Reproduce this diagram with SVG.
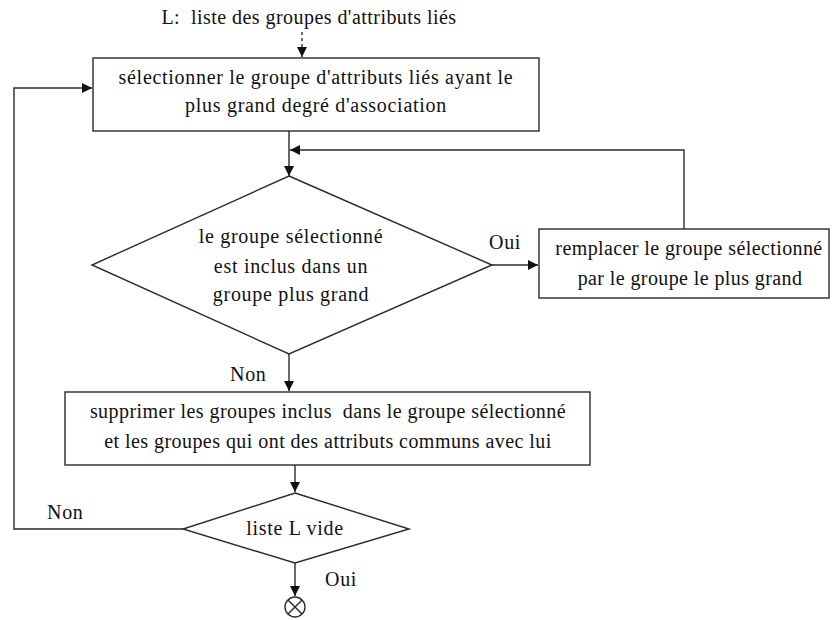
<svg xmlns="http://www.w3.org/2000/svg" width="832" height="620" viewBox="0 0 832 620">
  <defs>
    <style>
      .shape { fill: #ffffff; stroke: #2a2a2a; stroke-width: 1.4; }
      .conn { fill: none; stroke: #2a2a2a; stroke-width: 1.4; }
      .dash { stroke-dasharray: 3 3; }
      text { font-family: "Liberation Serif", "Times New Roman", "DejaVu Serif", serif; font-size: 20px; fill: #111; letter-spacing: 0.7px; white-space: pre; }
      .c { text-anchor: middle; }
      .tight { letter-spacing: 0.45px; }
      .tighter { letter-spacing: 0.4px; }
    </style>
    <marker id="arr" markerUnits="userSpaceOnUse" markerWidth="12" markerHeight="10" refX="10" refY="5" orient="auto">
      <path d="M0,0 L10,5 L0,10 Z" fill="#111"/>
    </marker>
  </defs>
  <rect width="832" height="620" fill="#ffffff"/>

  <g id="connectors">
    <line class="conn dash" x1="302" y1="32" x2="302" y2="57" marker-end="url(#arr)"/>
    <line class="conn" x1="289" y1="131" x2="289" y2="176" marker-end="url(#arr)"/>
    <polyline class="conn" points="684,229 684,150 290,150" marker-end="url(#arr)"/>
    <line class="conn" x1="492" y1="265" x2="538" y2="265" marker-end="url(#arr)"/>
    <line class="conn" x1="289" y1="354" x2="289" y2="391" marker-end="url(#arr)"/>
    <line class="conn" x1="295" y1="465" x2="295" y2="492" marker-end="url(#arr)"/>
    <polyline class="conn" points="183,529 14,529 14,88 92,88" marker-end="url(#arr)"/>
    <line class="conn" x1="295" y1="563" x2="295" y2="596" marker-end="url(#arr)"/>
    <text x="230" y="381">Non</text>
    <text x="489" y="249">Oui</text>
    <text x="47" y="519">Non</text>
    <text x="325" y="586">Oui</text>
  </g>

  <g id="input-label">
    <text class="c tight" x="309" y="24" xml:space="preserve">L:  liste des groupes d'attributs liés</text>
  </g>

  <g id="select-group">
    <rect class="shape" x="93" y="58" width="446" height="73"/>
    <text class="c" x="316" y="84">sélectionner le groupe d'attributs liés ayant le</text>
    <text class="c" x="316" y="112">plus grand degré d'association</text>
  </g>

  <g id="is-included">
    <polygon class="shape" points="289,176 492,265 289,354 92,265"/>
    <text class="c" x="291" y="243">le groupe sélectionné</text>
    <text class="c" x="291" y="273">est inclus dans un</text>
    <text class="c" x="291" y="301">groupe plus grand</text>
  </g>

  <g id="replace-group">
    <rect class="shape" x="539" y="229" width="290" height="69"/>
    <text class="c tighter" x="689" y="255">remplacer le groupe sélectionné</text>
    <text class="c tighter" x="690" y="285">par le groupe le plus grand</text>
  </g>

  <g id="delete-groups">
    <rect class="shape" x="65" y="392" width="525" height="73"/>
    <text class="c tight" x="328" y="418" xml:space="preserve">supprimer les groupes inclus  dans le groupe sélectionné</text>
    <text class="c tight" x="328" y="448">et les groupes qui ont des attributs communs avec lui</text>
  </g>

  <g id="list-empty">
    <polygon class="shape" points="295,493 409,529 295,563 183,529"/>
    <text class="c" x="295" y="535">liste L vide</text>
  </g>

  <g id="end">
    <circle class="shape" cx="295" cy="607" r="10"/>
    <line class="conn" x1="288" y1="600" x2="302" y2="614"/>
    <line class="conn" x1="302" y1="600" x2="288" y2="614"/>
  </g>
</svg>
